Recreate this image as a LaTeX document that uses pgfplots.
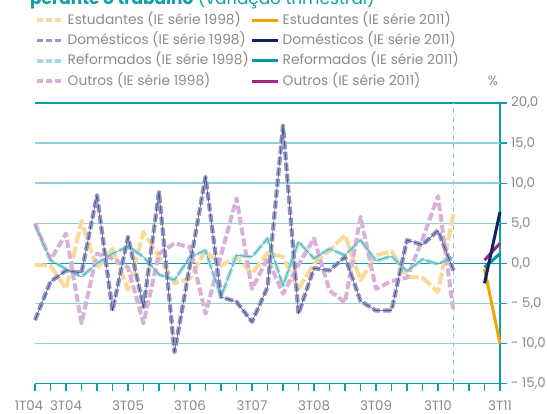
\documentclass[border=0pt]{standalone}
\usepackage{pgfplots}
\usepackage{pgfplotstable}
\pgfplotsset{compat=1.18}
\usepackage{fontspec}
\setmainfont{Poppins}
\definecolor{axteal}{HTML}{0A9FAA}
\definecolor{gridteal}{HTML}{8FD1D6}
\definecolor{est98}{HTML}{FBD99B}
\definecolor{est11}{HTML}{F0A500}
\definecolor{dom98}{HTML}{9595C4}
\definecolor{dom11}{HTML}{0E2563}
\definecolor{domthin}{HTML}{34427E}
\definecolor{ref98}{HTML}{A3DCDF}
\definecolor{ref11}{HTML}{0098A5}
\definecolor{refthin}{HTML}{35A9B1}
\definecolor{out98}{HTML}{D9B0D8}
\definecolor{out11}{HTML}{A2287F}
\definecolor{txtgray}{HTML}{8A8A8A}

\pgfplotstableread{
i est dom ref out
0 -0.2 -7.1 4.8 5.0
1 -0.3 -2.3 0.4 0.4
2 -3.2 -0.9 -0.7 3.7
3 5.3 -1.2 -1.7 -7.5
4 -0.7 8.5 0.0 1.2
5 1.8 -5.9 1.2 0.6
6 -3.3 3.3 2.1 -0.5
7 3.9 -5.5 0.8 -7.5
8 0.8 8.9 -1.4 1.2
9 -2.5 -11.1 -2.1 2.5
10 -1.9 -0.2 0.8 2.0
11 1.6 10.8 1.6 -6.3
12 -0.3 -4.2 -4.2 1.0
13 0.8 -4.8 1.0 8.1
14 -1.3 -7.3 0.8 -3.2
15 1.3 -3.0 3.1 0.6
16 0.8 17.2 -2.8 -3.8
17 -3.2 -6.3 2.7 -0.2
18 0.0 -0.6 0.6 3.1
19 1.6 -0.9 1.8 -3.4
20 3.5 0.8 1.0 -4.9
21 -2.1 -4.7 2.9 5.8
22 1.0 -5.9 0.3 -3.2
23 1.5 -5.9 0.9 -2.2
24 -1.7 2.9 -1.0 -1.8
25 -1.8 2.3 0.5 3.0
26 -3.6 4.1 -0.1 8.4
27 6.2 -0.9 0.8 -6.0
}\olddata
\pgfplotstableread{
i est dom ref out
29 -0.7 -2.5 -0.5 0.4
30 -10.0 6.4 1.2 2.5
}\newdata

\begin{document}
\begin{tikzpicture}
\begin{axis}[
  scale only axis, width=465bp, height=280.5bp,
  xmin=0, xmax=30, ymin=-15, ymax=20,
  axis x line*=bottom, axis y line*=right,
  axis line style={axteal, line width=1.5bp},
  y axis line style={shorten <=-4bp},
  xtick={0,...,30},
  xticklabels={\hspace*{-12bp}1T04,,3T04,,,,3T05,,,,3T06,,,,3T07,,,,3T08,,,,3T09,,,,3T10,,,,3T11},
  xtick pos=left, ytick pos=right, yticklabel pos=right,
  tick align=outside, major tick length=7bp,
  tick style={axteal, line width=1.2bp},
  ytick={-15,-10,-5,0,5,10,15,20},
  yticklabels={{- 15,0},{- 10,0},{- 5,0},{0,0},{5,0},{10,0},{15,0},{20,0}},
  tick label style={font=\fontsize{13.4}{15}\selectfont, text=txtgray},
  yticklabel style={anchor=west, inner sep=0pt, xshift=4bp},
  xticklabel style={anchor=base, yshift=-20bp},
  no markers, clip=false,
  every axis plot/.append style={line join=round},
  legend columns=2, legend cell align=left,
  legend image code/.code={\draw[#1] (0bp,0bp) -- (26bp,0bp);},
  legend style={at={(0,1.3173)}, anchor=north west, draw=none, fill=none,
    inner sep=0pt, row sep=8.3bp,
    font=\fontsize{13.8}{15}\selectfont, text=txtgray,
    nodes={inner sep=0pt, text height=10bp, text depth=2bp},
    /tikz/every odd column/.append style={column sep=3bp},
    /tikz/every even column/.append style={column sep=0bp}},
]
\draw[gridteal, line width=1.4bp] (axis cs:0,15) -- (axis cs:30,15);
\draw[gridteal, line width=1.4bp] (axis cs:0,10) -- (axis cs:30,10);
\draw[gridteal, line width=1.4bp] (axis cs:0,5) -- (axis cs:30,5);
\draw[gridteal, line width=1.4bp] (axis cs:0,-5) -- (axis cs:30,-5);
\draw[gridteal, line width=1.4bp] (axis cs:0,-10) -- (axis cs:30,-10);
\draw[axteal, line width=1.5bp] (axis cs:0,0) -- (axis cs:30,0);
\draw[axteal, line width=2.5bp] (axis cs:0,20) -- (axis cs:30,20);
\draw[gridteal, line width=1.3bp, dash pattern=on 5bp off 4bp] (axis cs:27,-15) -- (axis cs:27,20);

\addplot[est98, line width=4bp, dash pattern=on 12bp off 3bp, forget plot] table[x=i,y=est]{\olddata};
\addplot[ref98, line width=3.6bp, dash pattern=on 12bp off 3bp, forget plot] table[x=i,y=ref]{\olddata};
\addplot[out98, line width=4bp, dash pattern=on 8bp off 3bp, forget plot] table[x=i,y=out]{\olddata};
\addplot[dom98, line width=4.2bp, dash pattern=on 8bp off 3bp, forget plot] table[x=i,y=dom]{\olddata};
\addplot[refthin, line width=0.6bp, forget plot] table[x=i,y=ref]{\olddata};
\addplot[domthin, line width=0.5bp, forget plot] table[x=i,y=dom]{\olddata};

\addplot[est11, line width=3bp, forget plot] table[x=i,y=est]{\newdata};
\addplot[ref11, line width=3bp, forget plot] table[x=i,y=ref]{\newdata};
\addplot[out11, line width=3bp, forget plot] table[x=i,y=out]{\newdata};
\addplot[dom11, line width=3bp, forget plot] table[x=i,y=dom]{\newdata};

\addlegendimage{est98, line width=3.5bp, dash pattern=on 6bp off 3bp}
\addlegendentry{\makebox[183bp][l]{Estudantes (IE série 1998)}}
\addlegendimage{est11, line width=3bp}
\addlegendentry{Estudantes (IE série 2011)}
\addlegendimage{dom98, line width=3.5bp, dash pattern=on 6bp off 3bp}
\addlegendentry{\makebox[183bp][l]{Domésticos (IE série 1998)}}
\addlegendimage{dom11, line width=3bp}
\addlegendentry{Domésticos (IE série 2011)}
\addlegendimage{ref98, line width=3.5bp, dash pattern=on 6bp off 3bp}
\addlegendentry{\makebox[183bp][l]{Reformados (IE série 1998)}}
\addlegendimage{ref11, line width=3bp}
\addlegendentry{Reformados (IE série 2011)}
\addlegendimage{out98, line width=3.5bp, dash pattern=on 6bp off 3bp}
\addlegendentry{\makebox[183bp][l]{Outros (IE série 1998)}}
\addlegendimage{out11, line width=3bp}
\addlegendentry{Outros (IE série 2011)}
\end{axis}
\node[text=txtgray, font=\fontsize{13.4}{15}\selectfont, inner sep=0pt] at (458bp,302.5bp) {\%};
\node[anchor=base west, text=axteal, font=\fontsize{17}{20}\selectfont, inner sep=0pt] at (-5bp,379bp) {\textbf{perante o trabalho} (variação trimestral)};
\pgfresetboundingbox
\useasboundingbox (-35bp,-30.5bp) rectangle (512bp,383.5bp);
\end{tikzpicture}
\end{document}
